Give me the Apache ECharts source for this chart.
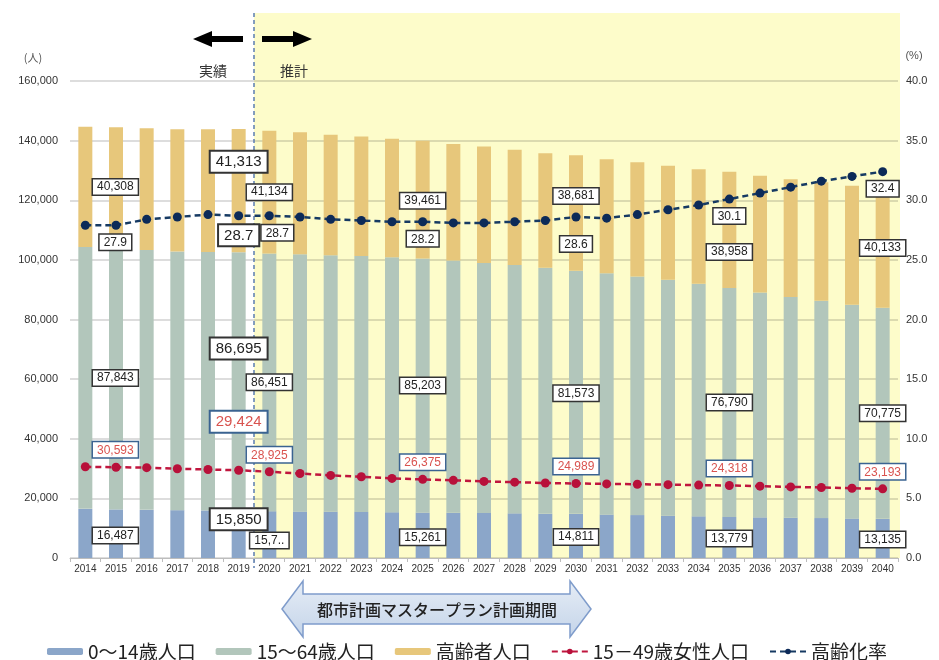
<!DOCTYPE html>
<html>
<head>
<meta charset="utf-8">
<script src="https://cdn.jsdelivr.net/npm/echarts@6/dist/echarts.min.js"></script>
<style>
  html, body { margin: 0; padding: 0; background: #ffffff; }
  #chart { width: 939px; height: 660px; }
</style>
</head>
<body>
<div id="chart"></div>
<script>
// 年次
const years = ['2014','2015','2016','2017','2018','2019','2020','2021','2022','2023','2024','2025','2026',
  '2027','2028','2029','2030','2031','2032','2033','2034','2035','2036','2037','2038','2039','2040'];

// 0〜14歳人口
const child = [16487,16300,16150,16050,15950,15850,15700,15620,15540,15460,15360,15261,15180,
  15090,15000,14900,14811,14600,14400,14200,14000,13779,13650,13520,13400,13270,13135];

// 15〜64歳人口
const working = [87843,87500,87200,86800,86700,86695,86451,86250,86050,85800,85550,85203,84600,
  83900,83300,82500,81573,80900,80000,79100,78000,76790,75400,74000,72900,71700,70775];

// 高齢者人口
const elderly = [40308,40650,40800,41000,41150,41313,41134,40900,40360,40120,39690,39461,39050,
  39040,38610,38390,38681,38280,38380,38240,38420,38958,39140,39560,39700,39860,40133];

// 15－49歳女性人口
const women = [30593,30450,30300,29950,29700,29424,28925,28350,27700,27250,26700,26375,26050,
  25700,25450,25150,24989,24850,24750,24600,24450,24318,24100,23850,23650,23400,23193];

// 高齢化率（％）
const agingRate = [27.9,27.9,28.4,28.6,28.8,28.7,28.7,28.6,28.4,28.3,28.2,28.2,28.1,
  28.1,28.2,28.3,28.6,28.5,28.8,29.2,29.6,30.1,30.6,31.1,31.6,32.0,32.4];

// 左軸・右軸の目盛
const leftTicks = { min: 0, max: 160000, interval: 20000 };
const rightTicks = { min: 0, max: 40, interval: 5 };

// 数値ラベルを付ける年（インデックス）
const labeledYears = [0, 5, 6, 11, 16, 21, 26];
const emphasisYear = 5;           // 実績最終年：大きい枠
const truncatedLabels = { child: { 6: '15,7..' } };

// ラベル位置の微調整 [dx, dy]
const labelShift = {
  child:   { 0: [30, 2], 5: [0, -15], 6: [0, 6], 11: [0, 2], 16: [0, 1], 21: [0, 1], 26: [0, 1] },
  working: { 0: [30, 0], 5: [0, -33], 6: [0, 0], 11: [0, 0], 16: [0, 1], 21: [0, 0], 26: [0, 0] },
  elderly: { 0: [30, 0], 5: [0, -29], 6: [0, 0], 11: [0, 1], 16: [0, -17], 21: [0, 22], 26: [0, 0] },
  rate:    { 0: [30, 0], 5: [0, 0], 6: [8, 0], 11: [0, 0], 16: [0, 10], 21: [0, 0], 26: [0, 0] },
  women:   { 0: [30, 0], 5: [0, -29], 6: [0, 0], 11: [0, 0], 16: [0, 0], 21: [0, 0], 26: [0, 0] }
};

const NUM_FONT = '"Liberation Sans", Arial, sans-serif';
const JP_FONT = '"Noto Sans CJK JP", "Noto Sans", sans-serif';

const fmtInt = v => Math.round(v).toLocaleString('en-US');

function boxLabel(key, i, text, opts) {
  const big = i === emphasisYear;
  return Object.assign({
    show: true,
    formatter: text,
    fontFamily: NUM_FONT,
    fontSize: big ? 15 : 12,
    color: '#222',
    backgroundColor: '#ffffff',
    borderColor: '#333',
    borderWidth: big ? 2 : 1.5,
    padding: big ? [3, 5, 2, 5] : [2, 4, 1, 4],
    offset: labelShift[key][i] || [0, 0]
  }, opts || {});
}

function barData(key, values) {
  return values.map((v, i) => {
    if (labeledYears.indexOf(i) < 0) return v;
    const t = (truncatedLabels[key] && truncatedLabels[key][i]) || fmtInt(v);
    return { value: v, label: boxLabel(key, i, t, { position: 'inside' }) };
  });
}

function rateData(values) {
  return values.map((v, i) => {
    if (labeledYears.indexOf(i) < 0) return v;
    return { value: v, label: boxLabel('rate', i, v.toFixed(1), { position: 'bottom' }) };
  });
}

function womenData(values) {
  return values.map((v, i) => {
    if (labeledYears.indexOf(i) < 0) return v;
    return { value: v, label: boxLabel('women', i, fmtInt(v), {
      position: 'top', color: '#d9534f', borderColor: '#3a6391'
    }) };
  });
}

const chart = echarts.init(document.getElementById('chart'), null, { renderer: 'canvas' });

const option = {
  backgroundColor: '#ffffff',
  animation: false,
  grid: { left: 70, right: 41, top: 81, bottom: 102, containLabel: false },
  legend: {
    left: 42, top: 637,
    itemWidth: 36, itemHeight: 7, itemGap: 20,
    textStyle: { fontFamily: JP_FONT, fontSize: 19, color: '#222' },
    data: [
      { name: '0〜14歳人口', icon: 'roundRect' },
      { name: '15〜64歳人口', icon: 'roundRect' },
      { name: '高齢者人口', icon: 'roundRect' },
      { name: '15－49歳女性人口' },
      { name: '高齢化率' }
    ]
  },
  xAxis: {
    type: 'category',
    data: years,
    boundaryGap: true,
    axisLine: { lineStyle: { color: '#bdbdbd', width: 1 } },
    axisTick: { show: true, alignWithLabel: false, length: 4, lineStyle: { color: '#bdbdbd' } },
    axisLabel: { interval: 0, fontFamily: NUM_FONT, fontSize: 10, color: '#333', margin: 6 }
  },
  yAxis: [
    {
      type: 'value',
      min: leftTicks.min, max: leftTicks.max, interval: leftTicks.interval,
      axisLine: { show: false }, axisTick: { show: false },
      axisLabel: { formatter: v => fmtInt(v), fontFamily: NUM_FONT, fontSize: 11, color: '#333', margin: 12 },
      splitLine: { lineStyle: { color: 'rgba(0,0,0,0.18)', width: 1.5 } }
    },
    {
      type: 'value',
      min: rightTicks.min, max: rightTicks.max, interval: rightTicks.interval,
      axisLine: { show: false }, axisTick: { show: false },
      axisLabel: { formatter: v => v.toFixed(1), fontFamily: NUM_FONT, fontSize: 11, color: '#333', margin: 8 },
      splitLine: { show: false }
    }
  ],
  series: [
    {
      name: '0〜14歳人口', type: 'bar', stack: 'pop', barWidth: 14, z: 2,
      itemStyle: { color: '#8ba6c9' },
      data: barData('child', child)
    },
    {
      name: '15〜64歳人口', type: 'bar', stack: 'pop', barWidth: 14, z: 2,
      itemStyle: { color: '#b2c6bb' },
      data: barData('working', working)
    },
    {
      name: '高齢者人口', type: 'bar', stack: 'pop', barWidth: 14, z: 2,
      itemStyle: { color: '#e7c77b' },
      data: barData('elderly', elderly)
    },
    {
      name: '15－49歳女性人口', type: 'line', yAxisIndex: 0, z: 5,
      symbol: 'circle', symbolSize: 9,
      lineStyle: { color: '#c0163e', width: 2.5, type: [6, 4] },
      itemStyle: { color: '#b8103a' },
      data: womenData(women)
    },
    {
      name: '高齢化率', type: 'line', yAxisIndex: 1, z: 6,
      symbol: 'circle', symbolSize: 9,
      lineStyle: { color: '#163a63', width: 2.5, type: [6, 4] },
      itemStyle: { color: '#0c2a58' },
      data: rateData(agingRate)
    }
  ]
};

chart.setOption(option);

// 推計期間の背景・区切り線・注記
const p19 = chart.convertToPixel({ xAxisIndex: 0 }, '2019');
const p20 = chart.convertToPixel({ xAxisIndex: 0 }, '2020');
const yZero = chart.convertToPixel({ yAxisIndex: 0 }, 0);
const splitX = (p19 + p20) / 2;
const plotRight = 939 - 41;

chart.setOption({
  graphic: [
    {
      type: 'rect', z: -10, silent: true,
      shape: { x: splitX, y: 13, width: plotRight + 2 - splitX, height: yZero - 13 },
      style: { fill: '#fdfcca' }
    },
    {
      type: 'line', z: 1, silent: true,
      shape: { x1: splitX, y1: 13, x2: splitX, y2: yZero + 10 },
      style: { stroke: '#5b7eb0', lineWidth: 1.5, lineDash: [4, 3] }
    },
    // 実績 ←
    {
      type: 'polygon', z: 10, silent: true,
      shape: { points: [[193, 39], [212, 31], [212, 36], [243, 36], [243, 42], [212, 42], [212, 47]] },
      style: { fill: '#000' }
    },
    // → 推計
    {
      type: 'polygon', z: 10, silent: true,
      shape: { points: [[262, 36], [293, 36], [293, 31], [312, 39], [293, 47], [293, 42], [262, 42]] },
      style: { fill: '#000' }
    },
    {
      type: 'text', z: 10, silent: true, x: 213, y: 71,
      style: { text: '実績', fontFamily: JP_FONT, fontSize: 14, fill: '#333', align: 'center', verticalAlign: 'middle' }
    },
    {
      type: 'text', z: 10, silent: true, x: 294, y: 71,
      style: { text: '推計', fontFamily: JP_FONT, fontSize: 14, fill: '#333', align: 'center', verticalAlign: 'middle' }
    },
    {
      type: 'text', z: 10, silent: true, x: 33, y: 58,
      style: { text: '(人)', fontFamily: JP_FONT, fontSize: 11, fill: '#555', align: 'center', verticalAlign: 'middle' }
    },
    {
      type: 'text', z: 10, silent: true, x: 914, y: 56,
      style: { text: '(%)', fontFamily: NUM_FONT, fontSize: 11, fill: '#555', align: 'center', verticalAlign: 'middle' }
    },
    // 都市計画マスタープラン計画期間（両矢印）
    {
      type: 'polygon', z: 10, silent: true,
      shape: { points: [[282, 609], [303, 581], [303, 594], [570, 594], [570, 581], [591, 609],
                        [570, 637], [570, 624], [303, 624], [303, 637]] },
      style: {
        fill: new echarts.graphic.LinearGradient(0, 0, 0, 1, [
          { offset: 0, color: '#e6edf6' }, { offset: 1, color: '#c4d4e9' }
        ]),
        stroke: '#7f9ccb', lineWidth: 1.5
      }
    },
    {
      type: 'text', z: 11, silent: true, x: 437, y: 610,
      style: { text: '都市計画マスタープラン計画期間', fontFamily: JP_FONT, fontSize: 16, fontWeight: 500,
               fill: '#222', align: 'center', verticalAlign: 'middle' }
    }
  ]
});
</script>
</body>
</html>
